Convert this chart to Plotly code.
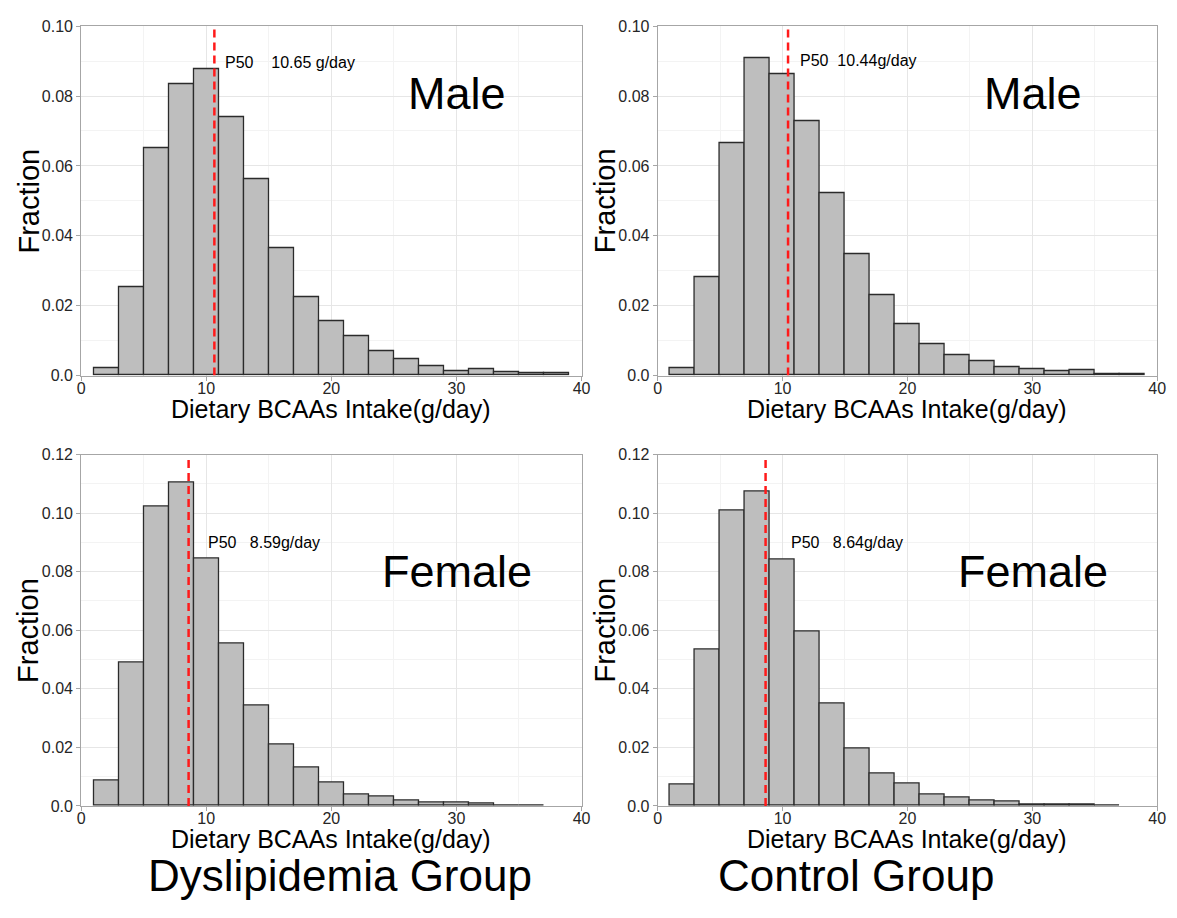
import plotly.graph_objects as go

# ---------------- data ----------------
bin_centers = [2, 4, 6, 8, 10, 12, 14, 16, 18, 20, 22, 24, 26, 28, 30, 32, 34, 36, 38]
bin_width = 2

dys_male = [0.0020, 0.0252, 0.0651, 0.0835, 0.0876, 0.0739, 0.0563, 0.0364, 0.0224, 0.0157,
            0.0112, 0.0070, 0.0046, 0.0027, 0.0012, 0.0017, 0.0010, 0.0006, 0.0006]
ctrl_male = [0.0022, 0.0283, 0.0664, 0.0909, 0.0862, 0.0729, 0.0522, 0.0348, 0.0229, 0.0147,
             0.0091, 0.0059, 0.0042, 0.0023, 0.0019, 0.0012, 0.0015, 0.0005, 0.0003]
dys_female = [0.0087, 0.0491, 0.1021, 0.1105, 0.0844, 0.0556, 0.0342, 0.0211, 0.0131, 0.0081,
              0.0040, 0.0033, 0.0018, 0.0013, 0.0011, 0.0007, 0.0002, 0.0002, None]
ctrl_female = [0.0073, 0.0535, 0.1008, 0.1074, 0.0841, 0.0596, 0.0351, 0.0197, 0.0109, 0.0077,
               0.0039, 0.0030, 0.0017, 0.0016, 0.0006, 0.0005, 0.0006, 0.0001, None]

medians = [10.65, 10.44, 8.59, 8.64]
median_labels = ["P50\u00a0\u00a0\u00a0\u00a010.65\u00a0g/day",
                 "P50\u00a0\u00a010.44g/day",
                 "P50\u00a0\u00a0\u00a08.59g/day",
                 "P50\u00a0\u00a0\u00a08.64g/day"]
label_pos = [(11.3, 0.0897), (11.25, 0.0902), (9.95, 0.0899), (10.55, 0.0899)]
sex_labels = ["Male", "Male", "Female", "Female"]
group_labels = ["Dyslipidemia Group", "Control Group"]

x_ticks = [0, 10, 20, 30, 40]
x_ticktext = ["0", "10", "20", "30", "40"]
y_ticks_top = [0, 0.02, 0.04, 0.06, 0.08, 0.10]
y_ticktext_top = ["0.0", "0.02", "0.04", "0.06", "0.08", "0.10"]
y_ticks_bot = [0, 0.02, 0.04, 0.06, 0.08, 0.10, 0.12]
y_ticktext_bot = ["0.0", "0.02", "0.04", "0.06", "0.08", "0.10", "0.12"]
y_max = [0.10, 0.10, 0.12, 0.12]

x_title = "Dietary BCAAs Intake(g/day)"
y_title = "Fraction"

# ---------------- layout geometry ----------------
W, H = 1177, 918
FONT = "Liberation Sans, Arial, sans-serif"
# pixel boxes (left, right, top, bottom)
boxes = [(78, 584, 18.5, 374.5), (661, 1166, 18.5, 374.5),
         (78, 584, 455, 813), (661, 1166, 455, 813)]

series = [dys_male, ctrl_male, dys_female, ctrl_female]

fig = go.Figure()
layout = dict(width=W, height=H, margin=dict(l=0, r=0, t=0, b=0),
              paper_bgcolor="white", plot_bgcolor="white", showlegend=False,
              font=dict(family=FONT, color="#000000"), bargap=0)

annotations = []
shapes = []
for i, (vals, box) in enumerate(zip(series, boxes)):
    n = "" if i == 0 else str(i + 1)
    xa, ya = "x" + n, "y" + n
    fig.add_trace(go.Bar(x=bin_centers, y=vals, width=bin_width, xaxis=xa, yaxis=ya,
                         marker=dict(color="#bebebe", line=dict(color="#2b2b2b", width=1.3)),
                         hoverinfo="skip"))
    l, r, t, b = box
    top = i < 2
    axis_common = dict(showline=True, linecolor="#a6a6a6", linewidth=1, mirror=True,
                       ticks="outside", ticklen=4, tickcolor="#a6a6a6",
                       tickfont=dict(size=16, color="#262626", family=FONT),
                       showgrid=True, gridcolor="#e6e6e6", gridwidth=1, zeroline=False)
    layout["xaxis" + n] = dict(axis_common, domain=[l / W, r / W], range=[0, 40],
                               anchor=ya, tickvals=x_ticks, ticktext=x_ticktext,
                               ticklabelstandoff=-6,
                               minor=dict(dtick=5, showgrid=True, gridcolor="#f3f3f3", ticks=""))
    layout["yaxis" + n] = dict(axis_common, domain=[1 - b / H, 1 - t / H], range=[0, y_max[i]],
                               anchor=xa,
                               tickvals=y_ticks_top if top else y_ticks_bot,
                               ticktext=y_ticktext_top if top else y_ticktext_bot,
                               minor=dict(dtick=0.01, showgrid=True, gridcolor="#f3f3f3", ticks=""))
    # median line
    shapes.append(dict(type="line", xref=xa, yref=ya, x0=medians[i], x1=medians[i],
                       y0=0, y1=y_max[i] * 0.995, line=dict(color="#ff1a1a", width=2.5, dash="8px,5px"),
                       layer="above"))
    # median label
    annotations.append(dict(xref=xa, yref=ya, x=label_pos[i][0], y=label_pos[i][1],
                            text=median_labels[i], showarrow=False, xanchor="left", yanchor="middle",
                            font=dict(size=16, color="#000000", family=FONT)))
    # sex label
    cx = (458 if i % 2 == 0 else 1040)
    cy = (87 if top else 574)
    annotations.append(dict(xref="paper", yref="paper", x=cx / W, y=1 - cy / H,
                            text=sex_labels[i], showarrow=False, xanchor="center", yanchor="middle",
                            font=dict(size=45, color="#000000", family=FONT)))
    # axis titles
    annotations.append(dict(xref="paper", yref="paper", x=(l + r) / 2 / W,
                            y=1 - (b + 34) / H, text=x_title, showarrow=False,
                            xanchor="center", yanchor="middle",
                            font=dict(size=25, color="#000000", family=FONT)))
    annotations.append(dict(xref="paper", yref="paper", x=(l - 53) / W,
                            y=1 - (t + b) / 2 / H, text=y_title, showarrow=False, textangle=-90,
                            xanchor="center", yanchor="middle",
                            font=dict(size=29, color="#000000", family=FONT)))

# group titles
for gx, g in zip([340, 862], group_labels):
    annotations.append(dict(xref="paper", yref="paper", x=gx / W, y=1 - 884 / H, text=g,
                            showarrow=False, xanchor="center", yanchor="middle",
                            font=dict(size=44, color="#000000", family=FONT)))

layout["annotations"] = annotations
layout["shapes"] = shapes
fig.update_layout(**layout)
fig.write_html("out.html")
